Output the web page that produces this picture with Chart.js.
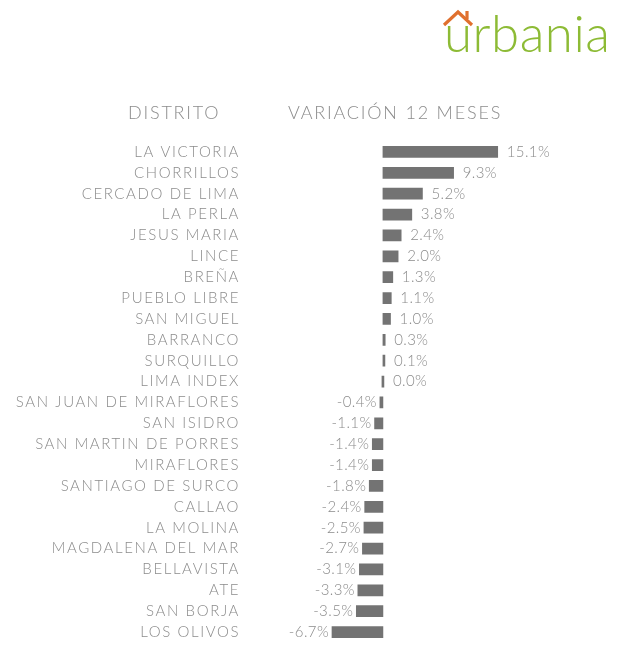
<!DOCTYPE html>
<html lang="es">
<head>
  <meta charset="UTF-8" />
  <title>Variación 12 meses por distrito</title>
  <script src="https://cdn.jsdelivr.net/npm/chart.js"></script>
  <style>
    html, body { margin: 0; padding: 0; background: #fff; }
    body { width: 620px; height: 649px; position: relative; overflow: hidden; font-family: Lato, "Open Sans", sans-serif; }
    #chart { position: absolute; left: 0; top: 0; }
    .head { position: absolute; top: 101px; color: #8c8c8c; font-size: 18px; font-weight: 300; letter-spacing: 1.8px; }
    .logo { position: absolute; left: 444px; top: 2px; color: #8dbb35; font-size: 51px; font-weight: 300; letter-spacing: 0.5px; }
    .roof { position: absolute; left: 441px; top: 6px; }
  </style>
</head>
<body>
  <canvas id="chart" width="620" height="649"></canvas>
  <div class="head" style="left:128px">DISTRITO</div>
  <div class="head" style="left:288px">VARIACIÓN 12 MESES</div>
  <div class="logo">urbania</div>
  <svg class="roof" width="40" height="22"><polyline points="3,19 17,6 31,19" fill="none" stroke="#e0702e" stroke-width="3.2"/><line x1="26" y1="5" x2="26" y2="13" stroke="#e0702e" stroke-width="3.2"/></svg>

  <script>
    const districts = [
      "LA VICTORIA", "CHORRILLOS", "CERCADO DE LIMA", "LA PERLA", "JESUS MARIA",
      "LINCE", "BREÑA", "PUEBLO LIBRE", "SAN MIGUEL", "BARRANCO", "SURQUILLO",
      "LIMA INDEX", "SAN JUAN DE MIRAFLORES", "SAN ISIDRO", "SAN MARTIN DE PORRES",
      "MIRAFLORES", "SANTIAGO DE SURCO", "CALLAO", "LA MOLINA", "MAGDALENA DEL MAR",
      "BELLAVISTA", "ATE", "SAN BORJA", "LOS OLIVOS"
    ];
    const variation = [
      15.1, 9.3, 5.2, 3.8, 2.4, 2.0, 1.3, 1.1, 1.0, 0.3, 0.1, 0.0,
      -0.4, -1.1, -1.4, -1.4, -1.8, -2.4, -2.5, -2.7, -3.1, -3.3, -3.5, -6.7
    ];

    // wide, airy lettering like the original
    const spacing = {
      id: "spacing",
      beforeDraw(chart) { chart.ctx.letterSpacing = "1.6px"; }
    };

    // text next to each bar
    const valueLabels = {
      id: "valueLabels",
      afterDatasetsDraw(chart) {
        const ctx = chart.ctx;
        const meta = chart.getDatasetMeta(0);
        ctx.save();
        ctx.letterSpacing = "0.4px";
        ctx.font = "300 15px Lato, 'Open Sans', sans-serif";
        ctx.fillStyle = "#8c8c8c";
        ctx.textBaseline = "middle";
        meta.data.forEach((bar, i) => {
          const v = variation[i];
          const txt = v.toFixed(1) + "%";
          if (v >= 0) {
            ctx.textAlign = "left";
            ctx.fillText(txt, Math.max(bar.x, bar.base) + 9, bar.y);
          } else {
            ctx.textAlign = "right";
            ctx.fillText(txt, bar.x - 3, bar.y);
          }
        });
        ctx.restore();
      }
    };

    new Chart(document.getElementById("chart"), {
      type: "bar",
      data: {
        labels: districts,
        datasets: [{
          data: variation,
          backgroundColor: "#737373",
          barThickness: 11,
          minBarLength: 2
        }]
      },
      options: {
        indexAxis: "y",
        responsive: false,
        animation: false,
        layout: { padding: { top: 141.5, bottom: 6.5, right: 9, left: 0 } },
        plugins: { legend: { display: false }, tooltip: { enabled: false } },
        scales: {
          x: {
            min: -18.8, max: 30,
            display: false,
            grid: { display: false }
          },
          y: {
            afterFit(scale) {
              scale.width = 240;
              scale.paddingTop = 0;
              scale.paddingBottom = 0;
            },
            border: { display: false },
            grid: { display: false, drawTicks: false },
            ticks: {
              autoSkip: false,
              padding: 0,
              color: "#8c8c8c",
              font: { family: "Lato, 'Open Sans', sans-serif", size: 15, weight: 300 }
            }
          }
        }
      },
      plugins: [spacing, valueLabels]
    });
  </script>
</body>
</html>
